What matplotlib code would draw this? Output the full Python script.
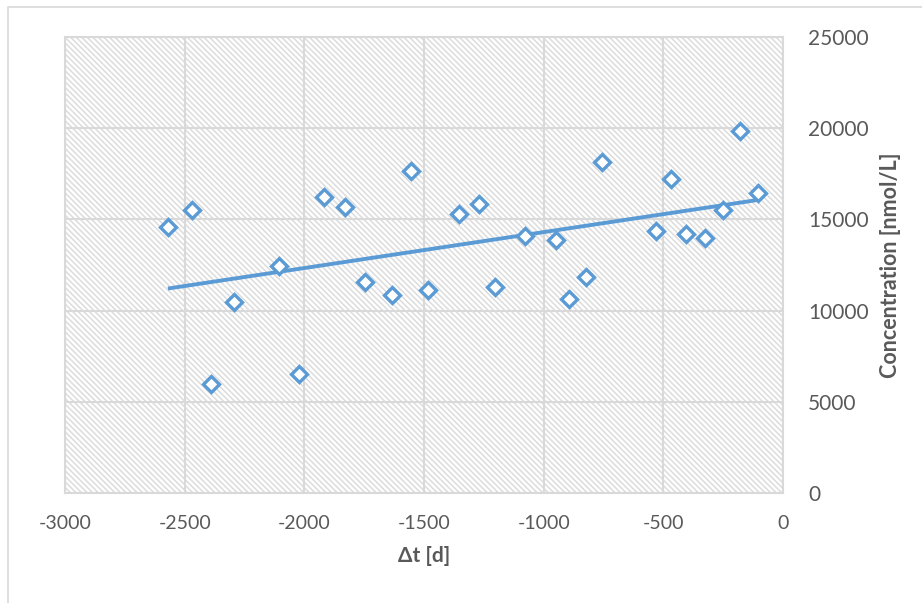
import matplotlib
matplotlib.use('Agg')
import matplotlib.pyplot as plt
from matplotlib.patches import Rectangle
import numpy as np

# Dados
dias = [-2570, -2469, -2390, -2294, -2106, -2022, -1918, -1830, -1746, -1634,
        -1554, -1483, -1354, -1270, -1203, -1078, -948, -894, -823, -756,
        -530, -468, -405, -325, -250, -179, -104]
concentracao = [14583, 15515, 5976, 10471, 12445, 6524, 16228, 15680, 11568, 10855,
                17654, 11129, 15296, 15844, 11294, 14090, 13870, 10636, 11842, 18147,
                14364, 17215, 14200, 13980, 15515, 19846, 16447]
x_ticks = [-3000, -2500, -2000, -1500, -1000, -500, 0]
y_ticks = [0, 5000, 10000, 15000, 20000, 25000]

AZUL = '#5B9BD5'
CINZA_TEXTO = '#595959'
CINZA_GRADE = '#d9d9d9'

plt.rcParams['axes.unicode_minus'] = False
plt.rcParams['hatch.linewidth'] = 1.1
plt.rcParams['hatch.color'] = '#dcdcdc'

fig = plt.figure(figsize=(9.22, 6.03), dpi=100)
fig.patch.set_facecolor('white')

# moldura do gráfico (cortada à direita e embaixo)
fig.add_artist(Rectangle((8 / 922, -0.1), 1.2, 1 - 7 / 603 + 0.1, transform=fig.transFigure,
                         facecolor='none', edgecolor=CINZA_GRADE, lw=1.2))

ax = fig.add_axes([65 / 922, 1 - 493 / 603, (783 - 65) / 922, (493 - 37) / 603])
ax.set_facecolor('white')

# fundo hachurado
ax.add_patch(Rectangle((0, 0), 1, 1, transform=ax.transAxes, facecolor='white',
                       edgecolor='#dcdcdc', hatch='\\\\\\\\\\\\', lw=0, zorder=0))

ax.set_xlim(-3000, 0)
ax.set_ylim(0, 25000)
ax.set_xticks(x_ticks)
ax.set_yticks(y_ticks)
ax.grid(True, color=CINZA_GRADE, lw=1.5, zorder=1)
ax.set_axisbelow(True)
for s in ax.spines.values():
    s.set_color(CINZA_GRADE)
    s.set_linewidth(1.5)

ax.yaxis.tick_right()
ax.yaxis.set_label_position('right')
ax.tick_params(axis='both', length=0)
ax.tick_params(axis='y', pad=18, labelsize=15, labelcolor=CINZA_TEXTO)
ax.tick_params(axis='x', pad=16, labelsize=14, labelcolor=CINZA_TEXTO)
for t in ax.get_yticklabels():
    t.set_family(['Lato', 'DejaVu Sans'])
for t in ax.get_xticklabels():
    t.set_family(['Lato', 'DejaVu Sans'])

# linha de tendência linear
a, b = np.polyfit(dias, concentracao, 1)
xs = np.array([min(dias), max(dias)])
ax.plot(xs, a * xs + b, color=AZUL, lw=2.8, zorder=3, solid_capstyle='butt')

ax.plot(dias, concentracao, linestyle='none', marker='D', markersize=8.2,
        markerfacecolor='white', markeredgecolor=AZUL, markeredgewidth=2.4, zorder=4)

ax.set_xlabel('Δt [d]', fontsize=15, fontweight='bold', color=CINZA_TEXTO,
              family=['Lato', 'DejaVu Sans'], labelpad=10)
ax.set_ylabel('Concentration [nmol/L]', fontsize=15.5, fontweight='bold', color=CINZA_TEXTO,
              family=['Lato', 'DejaVu Sans'], labelpad=8, rotation=90)

fig.savefig('out.png', dpi=100, facecolor='white')
